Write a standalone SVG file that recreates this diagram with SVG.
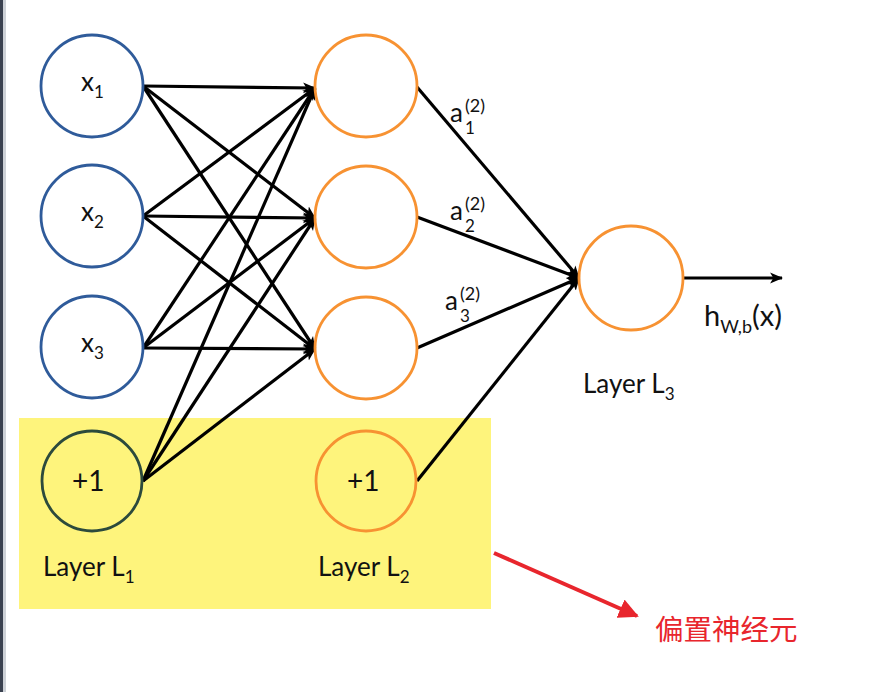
<svg xmlns="http://www.w3.org/2000/svg" width="895" height="692" viewBox="0 0 895 692">
<defs>
<style>
.l1{fill:none;stroke:#2f5b9a;stroke-width:2.8}
.bias1{fill:none;stroke:#2c4a3c;stroke-width:2.8}
.l2{fill:none;stroke:#f79232;stroke-width:2.8}
.lbl{font-family:Lato,"Open Sans","Liberation Sans",sans-serif;font-size:26px;fill:#111}
.sub{font-size:17px}
.sup{font-size:18px}
.edge{stroke:#000;stroke-width:3.2;fill:none;marker-end:url(#ah)}
.cn{font-family:"Noto Sans CJK SC","Noto Sans",sans-serif;font-size:28.5px;fill:#e8262d}
</style>
<marker id="ah" viewBox="0 0 12 12" refX="11" refY="6" markerWidth="13" markerHeight="13" markerUnits="userSpaceOnUse" orient="auto">
<path d="M0,1 L12,6 L0,11 L3,6 Z" fill="#000"/>
</marker>
<marker id="rh" viewBox="0 0 10 10" refX="9" refY="5" markerWidth="5" markerHeight="5" orient="auto">
<path d="M0,0 L10,5 L0,10 Z" fill="#e8262d"/>
</marker>
</defs>
<rect x="0" y="0" width="895" height="692" fill="#fff"/>
<rect x="0" y="0" width="3" height="692" fill="#3a4150"/>
<rect x="3" y="0" width="3" height="692" fill="#cdd1d7"/>
<rect id="bias-highlight" x="19" y="418" width="472" height="191" fill="#fef47c"/>

<g id="connectors">
<line class="edge" x1="143" y1="86" x2="315" y2="88"/>
<line class="edge" x1="143" y1="86" x2="315" y2="218"/>
<line class="edge" x1="143" y1="86" x2="315" y2="349"/>
<line class="edge" x1="143" y1="216" x2="315" y2="88"/>
<line class="edge" x1="143" y1="216" x2="315" y2="218"/>
<line class="edge" x1="143" y1="216" x2="315" y2="349"/>
<line class="edge" x1="143" y1="348" x2="315" y2="88"/>
<line class="edge" x1="143" y1="348" x2="315" y2="218"/>
<line class="edge" x1="143" y1="348" x2="315" y2="349"/>
<line class="edge" x1="143" y1="481" x2="315" y2="88"/>
<line class="edge" x1="143" y1="481" x2="315" y2="218"/>
<line class="edge" x1="143" y1="481" x2="315" y2="349"/>
<line class="edge" x1="417" y1="87" x2="579" y2="278"/>
<line class="edge" x1="417" y1="217" x2="579" y2="278"/>
<line class="edge" x1="417" y1="348" x2="579" y2="278"/>
<line class="edge" x1="417" y1="481" x2="579" y2="278"/>
<line class="edge" x1="683" y1="278" x2="782" y2="278"/>
<line x1="494" y1="553" x2="637" y2="616" stroke="#e8262d" stroke-width="4" marker-end="url(#rh)"/>
</g>

<g id="x1"><circle class="l1" cx="92" cy="86" r="51"/><text class="lbl" x="81" y="91">x<tspan class="sub" dy="7">1</tspan></text></g>
<g id="x2"><circle class="l1" cx="92" cy="216" r="51"/><text class="lbl" x="81" y="221">x<tspan class="sub" dy="7">2</tspan></text></g>
<g id="x3"><circle class="l1" cx="92" cy="347" r="51"/><text class="lbl" x="81" y="352">x<tspan class="sub" dy="7">3</tspan></text></g>
<g id="b1"><circle class="bias1" cx="92" cy="481" r="50"/><text class="lbl" x="72" y="491" style="font-size:28px">+1</text></g>

<g id="h1"><circle class="l2" cx="366" cy="86" r="51"/></g>
<g id="h2"><circle class="l2" cx="366" cy="217" r="51"/></g>
<g id="h3"><circle class="l2" cx="366" cy="348" r="51"/></g>
<g id="b2"><circle class="l2" cx="366" cy="481" r="50"/><text class="lbl" x="347" y="491" style="font-size:28px">+1</text></g>

<g id="out"><circle class="l2" cx="631" cy="278" r="52"/></g>

<g id="labels">
<text class="lbl" x="450" y="122">a</text><text class="lbl sup" x="465" y="112">(2)</text><text class="lbl sub" x="465" y="134">1</text>
<text class="lbl" x="450" y="220">a</text><text class="lbl sup" x="465" y="210">(2)</text><text class="lbl sub" x="465" y="232">2</text>
<text class="lbl" x="445" y="310">a</text><text class="lbl sup" x="460" y="300">(2)</text><text class="lbl sub" x="460" y="322">3</text>
<text class="lbl" x="704" y="326" style="font-size:29px">h<tspan class="sup" dy="7">W,b</tspan><tspan dy="-7">(x)</tspan></text>
<text class="lbl" x="583" y="393">Layer L<tspan class="sub" dy="7">3</tspan></text>
<text class="lbl" x="43" y="576">Layer L<tspan class="sub" dy="7">1</tspan></text>
<text class="lbl" x="318" y="576">Layer L<tspan class="sub" dy="7">2</tspan></text>
<text class="cn" x="655" y="640">偏置神经元</text>
</g>
</svg>
